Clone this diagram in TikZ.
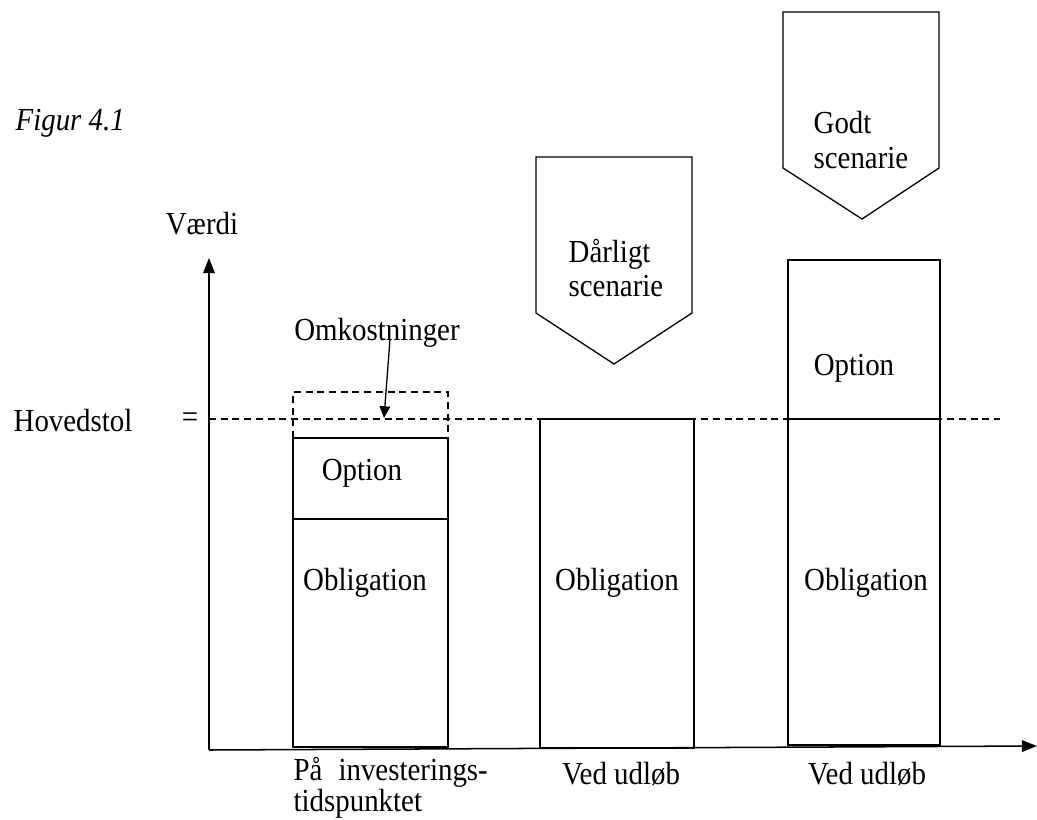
\documentclass[tikz,border=0pt]{standalone}
\usepackage{fontspec}
\setmainfont[FakeStretch=0.9]{Liberation Serif}
\usetikzlibrary{arrows.meta}
\begin{document}
\begin{tikzpicture}[x=0.03cm,y=-0.03cm,line width=1.1pt,
    lbl/.style={inner sep=0pt,font=\fontsize{27.4}{21.5}\selectfont},
    flagtext/.style={lbl,align=left,font=\fontsize{27.4}{29.5}\selectfont},
    barbox/.style={draw=black,line width=1.1pt},
    cutline/.style={dash pattern=on 6pt off 4pt,line width=1.1pt},
    flag/.style={draw=black,line width=1.1pt,line join=miter},
    axisarrow/.style={-{Triangle[length=13pt,width=10pt]},line width=1.3pt},
    costarrow/.style={-{Triangle[length=10pt,width=9pt]},line width=1.1pt}]
  \useasboundingbox (0,0) rectangle (1037,820);
  % axes
  \coordinate (origin) at (209,750);
  \coordinate (ytop) at (209,258);
  \coordinate (xend) at (1037,746);
  \draw[axisarrow] (origin) -- (ytop);
  \draw[axisarrow] (origin) -- (xend);
  \node[lbl,anchor=west,font=\fontsize{27.4}{29}\selectfont\itshape] (fig) at (15,123) {Figur 4.1};
  \node[lbl] (vaerdi) at (202,224) {Værdi};
  \node[lbl,anchor=west] (hoved) at (13,421) {Hovedstol};
  \node[lbl] (eq) at (190,420) {=};
  % principal level
  \draw[cutline] (209,419) -- (1000,419);
  % bar at the time of investment
  \draw[barbox] (293,438) rectangle (448,747);
  \draw[barbox] (293,519) -- (448,519);
  \draw[cutline] (293,438) -- (293,392) -- (448,392) -- (448,438) -- cycle;
  \node[lbl] (optA) at (362,473) {Option};
  \node[lbl] (oblA) at (365,583) {Obligation};
  \node[lbl] (omk) at (377,333) {Omkostninger};
  \coordinate (costtip) at (384,418);
  \draw[costarrow] ([shift={(13,-9)}]omk.south) -- (costtip);
  % bad scenario at expiry
  \draw[barbox] (540,419) rectangle (694,748);
  \node[lbl] (oblB) at (617,583) {Obligation};
  \draw[flag] (536,157) -- (692,157) -- (692,313) -- (614,364) -- (536,313) -- cycle;
  \node[flagtext,anchor=west] (bad) at (568,268) {Dårligt\\scenarie};
  % good scenario at expiry
  \draw[barbox] (788,260) rectangle (940,745);
  \draw[barbox] (788,419) -- (940,419);
  \node[lbl] (optC) at (854,368) {Option};
  \node[lbl] (oblC) at (866,583) {Obligation};
  \draw[flag] (783,12) -- (939,12) -- (939,168) -- (862,219) -- (783,168) -- cycle;
  \node[flagtext,anchor=west] (good) at (813,140) {Godt\\scenarie};
  % time labels
  \node[lbl,align=left,anchor=base west] (tA) at (293,811) {På\hspace{0.5em}investerings-\\tidspunktet};
  \node[lbl,anchor=base] (tB) at (621,784) {Ved udløb};
  \node[lbl,anchor=base] (tC) at (867,784) {Ved udløb};
\end{tikzpicture}
\end{document}
